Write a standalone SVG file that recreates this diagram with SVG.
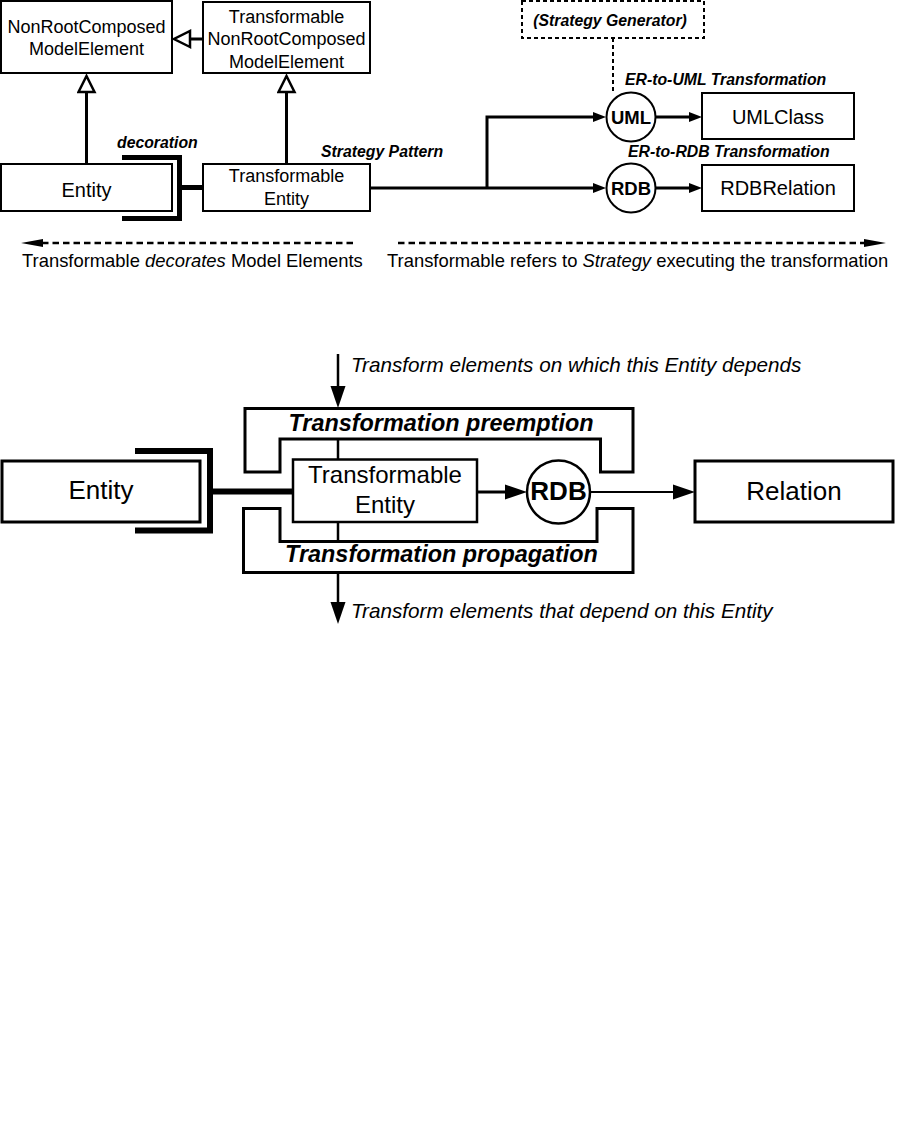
<svg xmlns="http://www.w3.org/2000/svg" width="915" height="1142" viewBox="0 0 915 1142">
<style>
  text { font-family: "Liberation Sans", Arial, Helvetica, sans-serif; fill: #000; }
  .box { fill: #fff; stroke: #000; stroke-width: 2; }
  .bigbox { fill: #fff; stroke: #000; stroke-width: 3; }
  .circ { fill: #fff; stroke: #000; stroke-width: 2; }
  .line { fill: none; stroke: #000; stroke-width: 3; }
  .thick { fill: none; stroke: #000; stroke-width: 5; stroke-linejoin: miter; }
  .dash { fill: none; stroke: #000; stroke-width: 2; stroke-dasharray: 4 3; }
  .legend { fill: none; stroke: #000; stroke-width: 2.5; stroke-dasharray: 6.5 4; }
  .lbl { font-weight: bold; font-style: italic; font-size: 15.8px; }
  .t18 { font-size: 18px; text-anchor: middle; }
  .t20 { font-size: 20px; text-anchor: middle; }
  .circtxt { font-size: 18.5px; font-weight: bold; text-anchor: middle; }
  .leg { font-size: 18.4px; }
  .it { font-style: italic; }
  .bt24 { font-size: 24px; text-anchor: middle; }
  .bt26 { font-size: 26px; text-anchor: middle; }
  .bbi { font-size: 23.4px; font-weight: bold; font-style: italic; text-anchor: middle; }
  .bit { font-size: 20.7px; font-style: italic; }
</style>
<defs>
  <marker id="gen" markerUnits="userSpaceOnUse" orient="auto" viewBox="-2 -10 22 20" markerWidth="22" markerHeight="20" refX="0" refY="0">
    <path d="M0,-8 L16,0 L0,8 Z" fill="#fff" stroke="#000" stroke-width="2.5"/>
  </marker>
  <marker id="arr" markerUnits="userSpaceOnUse" orient="auto" viewBox="0 -6 13 12" markerWidth="13" markerHeight="12" refX="0" refY="0">
    <path d="M0,-5 L13,0 L0,5 Z" fill="#000"/>
  </marker>
  <marker id="arrL" markerUnits="userSpaceOnUse" orient="auto" viewBox="0 -9 22 18" markerWidth="22" markerHeight="18" refX="0" refY="0">
    <path d="M0,-7.5 L22,0 L0,7.5 Z" fill="#000"/>
  </marker>
  <marker id="arrLeg" markerUnits="userSpaceOnUse" orient="auto" viewBox="0 -6 22 12" markerWidth="22" markerHeight="12" refX="0" refY="0">
    <path d="M0,-4 L22,0 L0,4 Z" fill="#000"/>
  </marker>
</defs>

<!-- ===== Top diagram connectors ===== -->
<g id="connectors">
  <path class="line" d="M203,39 H190" marker-end="url(#gen)"/>
  <path class="line" d="M86.5,164 V92" marker-end="url(#gen)"/>
  <path class="line" d="M286.5,164 V92" marker-end="url(#gen)"/>
  <path class="thick" d="M122,157.5 H179.5 V218.5 H122"/>
  <path class="thick" d="M182,187.5 H203"/>
  <path class="line" d="M370,188 H593" marker-end="url(#arr)"/>
  <path class="line" d="M487,188 V117 H593" marker-end="url(#arr)"/>
  <path class="line" d="M655.5,117 H689" marker-end="url(#arr)"/>
  <path class="line" d="M655.5,188 H689" marker-end="url(#arr)"/>
  <path class="dash" d="M613,38 V93"/>
  <path class="legend" d="M353,243 H43" marker-end="url(#arrLeg)"/>
  <path class="legend" d="M398,243 H864" marker-end="url(#arrLeg)"/>

  <!-- bottom diagram connectors -->
  <path fill="none" stroke="#000" stroke-width="6" d="M135,451 H210 V530.5 H135"/>
  <path fill="none" stroke="#000" stroke-width="6" d="M213,491.5 H293"/>
  <path fill="none" stroke="#000" stroke-width="2.5" d="M338,354 V386" marker-end="url(#arrL)"/>
  <path fill="none" stroke="#000" stroke-width="2.5" d="M338,574 V602" marker-end="url(#arrL)"/>
</g>

<!-- ===== Top diagram nodes ===== -->
<g id="nrc">
  <rect class="box" x="1" y="1" width="171" height="72"/>
  <text class="t18" x="86.5" y="33">NonRootComposed</text>
  <text class="t18" x="86.5" y="55">ModelElement</text>
</g>
<g id="tnrc">
  <rect class="box" x="203" y="2" width="167" height="71"/>
  <text class="t18" x="286.5" y="23">Transformable</text>
  <text class="t18" x="286.5" y="45">NonRootComposed</text>
  <text class="t18" x="286.5" y="67.5">ModelElement</text>
</g>
<g id="entity-top">
  <rect class="box" x="1" y="164" width="171" height="47"/>
  <text class="t20" x="86.5" y="196.5">Entity</text>
</g>
<g id="te-top">
  <rect class="box" x="203" y="164" width="167" height="47"/>
  <text class="t18" x="286.5" y="182">Transformable</text>
  <text class="t18" x="286.5" y="205">Entity</text>
</g>
<g id="strategy-generator">
  <rect x="522" y="1" width="182" height="37" fill="#fff" stroke="#000" stroke-width="2" stroke-dasharray="4 3"/>
  <text class="lbl" x="610" y="26" text-anchor="middle">(Strategy Generator)</text>
</g>
<g id="uml">
  <circle class="circ" cx="631" cy="117" r="24.5"/>
  <text class="circtxt" x="631" y="123.5">UML</text>
</g>
<g id="rdb-top">
  <circle class="circ" cx="631" cy="188" r="24.5"/>
  <text class="circtxt" x="631" y="195">RDB</text>
</g>
<g id="umlclass">
  <rect class="box" x="702" y="93" width="152" height="46"/>
  <text class="t20" x="778" y="124">UMLClass</text>
</g>
<g id="rdbrelation">
  <rect class="box" x="702" y="165" width="152" height="46"/>
  <text class="t20" x="778" y="195">RDBRelation</text>
</g>
<g id="labels-top">
  <text class="lbl" x="117" y="148">decoration</text>
  <text class="lbl" x="321" y="157">Strategy Pattern</text>
  <text class="lbl" x="625" y="85">ER-to-UML Transformation</text>
  <text class="lbl" x="628" y="157">ER-to-RDB Transformation</text>
  <text class="leg" x="22" y="267">Transformable <tspan class="it">decorates</tspan> Model Elements</text>
  <text class="leg" x="387" y="267">Transformable refers to <tspan class="it">Strategy</tspan> executing the transformation</text>
</g>

<!-- ===== Bottom diagram ===== -->
<g id="preemption">
  <path fill="#fff" stroke="#000" stroke-width="3" d="M245,408.5 H633 V472 H600.5 V439 H280 V472 H245 Z"/>
  <text class="bbi" x="441" y="431">Transformation preemption</text>
</g>
<g id="propagation">
  <path fill="#fff" stroke="#000" stroke-width="3" d="M243.5,508.5 H280 V541.5 H597 V508.5 H633 V572.5 H243.5 Z"/>
  <text class="bbi" x="441.5" y="562">Transformation propagation</text>
</g>
<g id="te-link">
  <path fill="none" stroke="#000" stroke-width="2.5" d="M338,439 V542"/>
</g>
<g id="entity-bottom">
  <rect class="bigbox" x="2" y="461" width="198" height="61"/>
  <text class="bt26" x="101" y="499">Entity</text>
</g>
<g id="te-bottom">
  <rect fill="#fff" stroke="#000" stroke-width="2.5" x="293" y="459.5" width="184" height="62.5"/>
  <text class="bt24" x="385" y="483">Transformable</text>
  <text class="bt24" x="385" y="513">Entity</text>
</g>
<g id="connectors-bottom">
  <path fill="none" stroke="#000" stroke-width="3" d="M477,492 H505" marker-end="url(#arrL)"/>
  <path fill="none" stroke="#000" stroke-width="2" d="M590,492 H673" marker-end="url(#arrL)"/>
</g>
<g id="rdb-bottom">
  <circle fill="#fff" stroke="#000" stroke-width="2.5" cx="558.5" cy="492" r="31.5"/>
  <text class="bt26" x="558.5" y="500" font-weight="bold">RDB</text>
</g>
<g id="relation">
  <rect class="bigbox" x="695" y="461" width="198" height="61"/>
  <text class="bt26" x="794" y="500">Relation</text>
</g>
<g id="labels-bottom">
  <text class="bit" x="351" y="372">Transform elements on which this Entity depends</text>
  <text class="bit" x="351" y="618">Transform elements that depend on this Entity</text>
</g>
</svg>
